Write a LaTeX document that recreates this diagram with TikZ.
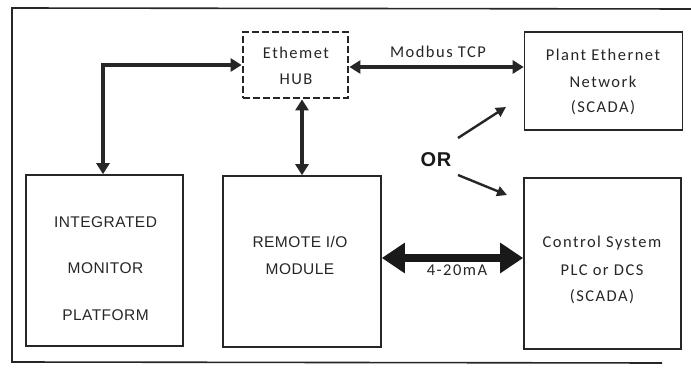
\documentclass[tikz,border=0pt]{standalone}
\usepackage{fontspec}
\setmainfont{Carlito}
\newfontfamily\capsfont[LetterSpace=3]{Liberation Sans}
\newfontfamily\lblfont[LetterSpace=9]{Carlito}
\usetikzlibrary{arrows.meta}
\begin{document}
\begin{tikzpicture}[x=1pt,y=-1pt,
  box/.style={draw=black!85, line width=1.6pt, inner sep=0pt},
  hubbox/.style={draw=black!85, line width=2.8pt, dash pattern=on 7pt off 3pt, inner sep=0pt},
  lbl/.style={font=\lblfont\fontsize{16.5}{18}\selectfont, text=black!85, inner sep=0pt},
  caps/.style={font=\capsfont\fontsize{15.5}{17}\selectfont, text=black!85, inner sep=0pt},
  conn/.style={draw=black!85, line width=4.5pt, {Triangle[length=11pt,width=13pt]}-{Triangle[length=11pt,width=13pt]}},
  thin/.style={draw=black!85, line width=2.4pt, -{Triangle[length=10pt,width=10pt]}},
  big/.style={draw=black!90, line width=8pt, {Triangle[length=23pt,width=29pt]}-{Triangle[length=23pt,width=29pt]}}
]
\useasboundingbox (0,0) rectangle (691,371);
% outer frame (open on the right)
\draw[black!85, line width=1.6pt] (691,9) -- (12,8) -- (12,362) -- (662,363);

% boxes
\node[box, minimum width=157pt, minimum height=171pt] (imp) at (104.5,260.5) {};
\node[box, minimum width=158pt, minimum height=171pt] (rio) at (302,261.5) {};
\node[box, minimum width=158pt, minimum height=98pt] (pen) at (603.5,81) {};
\node[box, minimum width=157pt, minimum height=171pt] (ctl) at (602.5,263.5) {};
\node[hubbox, minimum width=105pt, minimum height=66pt] (hub) at (295.5,65) {};

% texts
\node[lbl] (h1) at (296,53) {Ethemet};
\node[lbl] (h2) at (296,79) {HUB};
\node[caps] (i1) at (105.5,222) {INTEGRATED};
\node[caps] (i2) at (105.5,268) {MONITOR};
\node[caps] (i3) at (105.5,315) {PLATFORM};
\node[caps] (r1) at (300,242) {REMOTE I/O};
\node[caps] (r2) at (300,269) {MODULE};
\node[lbl] (p1) at (603,55) {Plant Ethernet};
\node[lbl] (p2) at (603,82) {Network};
\node[lbl] (p3) at (603,108) {(SCADA)};
\node[lbl] (c1) at (602,243) {Control System};
\node[lbl] (c2) at (602,270) {PLC or DCS};
\node[lbl] (c3) at (602,297) {(SCADA)};
\node[lbl] (mb) at (438,52) {Modbus TCP};
\node[lbl] (ma) at (457,270) {4-20mA};
\node[font=\capsfont\bfseries\fontsize{20}{22}\selectfont, inner sep=0pt, text=black!90] (or) at (436,160) {OR};

% connectors
\coordinate (bend) at (103,65);
\draw[conn] (hub.west |- 0,65) -- (bend) -- (bend |- imp.north);
\draw[conn] (hub.south -| 302,0) -- (302,0 |- rio.north);
\draw[conn] (hub.east |- 0,67) -- (pen.west |- 0,67);
\draw[big] (rio.east |- 0,258) -- (ctl.west |- 0,258);
\coordinate (o1) at (458,138);
\coordinate (o2) at (458,175);
\coordinate (t1) at (506,107);
\coordinate (t2) at (507,195);
\draw[thin] (o1) -- (t1);
\draw[thin] (o2) -- (t2);
\end{tikzpicture}
\end{document}
